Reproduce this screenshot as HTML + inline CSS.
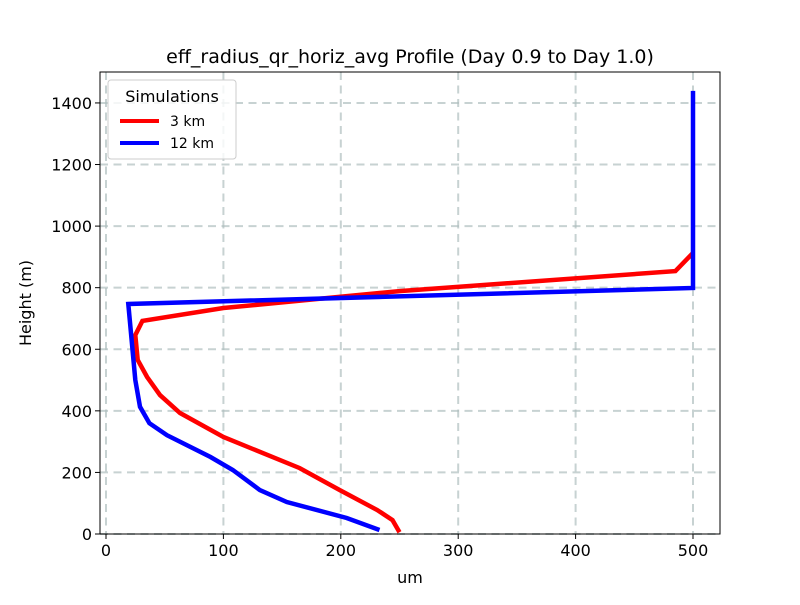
<!DOCTYPE html>
<html><head><meta charset="utf-8"><style>
body{margin:0;background:#fff}
svg text{font-family:"DejaVu Sans","Liberation Sans",sans-serif;fill:#000}
</style></head><body>
<svg id="chart" width="800" height="600" viewBox="0 0 800 600">
<rect width="800" height="600" fill="#fff"/>
<text x="410" y="63" font-size="19" text-anchor="middle">eff_radius_qr_horiz_avg Profile (Day 0.9 to Day 1.0)</text>
<g id="grid"></g>
<g id="series"></g>
<rect x="100" y="72" width="620" height="462" fill="none" stroke="#000" stroke-width="1"/>
<g id="ticks"></g>
<text x="410" y="583" font-size="16" text-anchor="middle">um</text>
<text transform="translate(31,303) rotate(-90)" font-size="16" text-anchor="middle">Height (m)</text>
<g>
<rect x="108" y="80" width="128" height="79" rx="3" fill="#fff" fill-opacity="0.8" stroke="#ccc"/>
<text x="172" y="102" font-size="16" text-anchor="middle">Simulations</text>
<line x1="120" y1="121" x2="159" y2="121" stroke="#ff0000" stroke-width="4"/>
<text x="170" y="126" font-size="14">3 km</text>
<line x1="120" y1="143" x2="159" y2="143" stroke="#0000ff" stroke-width="4"/>
<text x="170" y="148" font-size="14">12 km</text>
</g>
</svg>
<script>
const xTicks=[0,100,200,300,400,500];
const yTicks=[0,200,400,600,800,1000,1200,1400];
const red3kmX=[250,244,231,199,165,100,63,46,35,27,25,31,100,250,485,500];
const red3kmY=[6,45,78,143,214,315,393,451,510,565,646,692,734,789,854,913];
const blue12kmX=[233,205,154,131,108,89,52,37,29,25,19,500,500];
const blue12kmY=[13,52,104,143,208,250,321,360,413,500,747,799,1439];
const L=100,R=720,T=72,B=534;
function sx(v){return 106+v*1.174;}
function sy(v){return 534-v*0.3079;}
const NS="http://www.w3.org/2000/svg";
const grid=document.getElementById('grid'),ticks=document.getElementById('ticks'),series=document.getElementById('series');
function mk(tag,attrs,parent){const e=document.createElementNS(NS,tag);for(const k in attrs)e.setAttribute(k,attrs[k]);parent.appendChild(e);return e;}
xTicks.forEach(v=>{
  const x=sx(v);
  const g=mk('line',{x1:x,x2:x,y1:T,y2:B,stroke:'#b0bfbf','stroke-width':2,'stroke-dasharray':'8,5.5',opacity:0.7},grid);
  
  
  const t=mk('line',{x1:x,x2:x,y1:B,y2:B+5,stroke:'#000'},ticks);
  
  
  const l=mk('text',{x:x,y:B+22,'font-size':16,'text-anchor':'middle'},ticks);
  l.textContent=v;
  
  
});
yTicks.forEach(v=>{
  const y=sy(v);
  const g=mk('line',{x1:L,x2:R,y1:y,y2:y,stroke:'#b0bfbf','stroke-width':2,'stroke-dasharray':'8,5.5',opacity:0.7},grid);
  
  
  const t=mk('line',{x1:L-5,x2:L,y1:y,y2:y,stroke:'#000'},ticks);
  
  
  const l=mk('text',{x:L-8,y:y+6,'font-size':16,'text-anchor':'end'},ticks);
  l.textContent=v;
  
  
});
function line(xs,ys,color,name){
  const pts=xs.map((v,i)=>sx(v).toFixed(1)+','+sy(ys[i]).toFixed(1)).join(' ');
  const p=mk('polyline',{points:pts,fill:'none',stroke:color,'stroke-width':4.5,'stroke-linejoin':'miter'},series);
  
  
}
line(red3kmX,red3kmY,'#ff0000','series-3km');
line(blue12kmX,blue12kmY,'#0000ff','series-12km');
</script>
</body></html>
